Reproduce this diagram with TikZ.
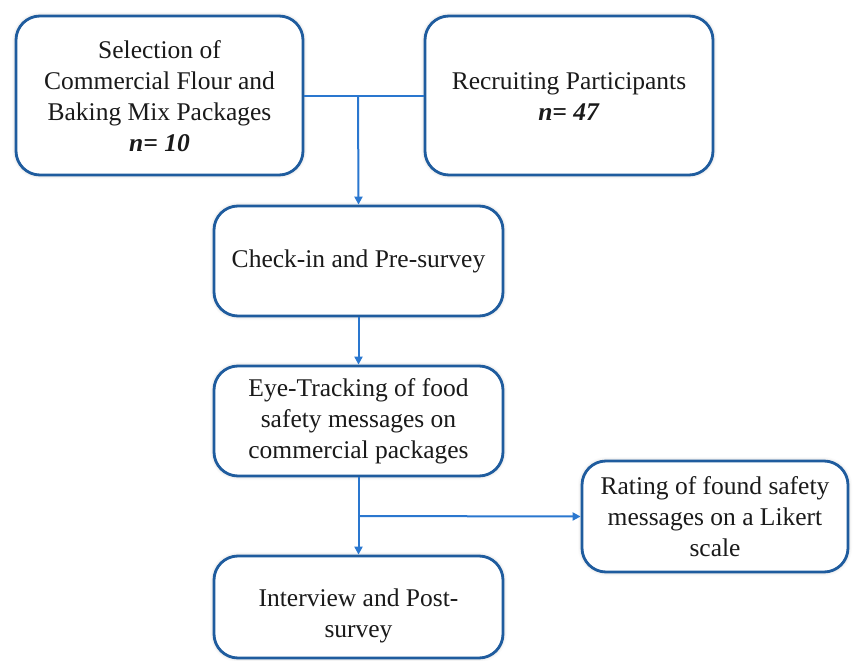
\documentclass[tikz,border=0pt]{standalone}
\usepackage{fontspec}
\setmainfont{Liberation Serif}
\usetikzlibrary{arrows.meta,shadows.blur}
\definecolor{boxblue}{HTML}{1F5C9E}
\definecolor{lineblue}{HTML}{2A77CF}
\definecolor{txt}{HTML}{1A1A1A}
\newcommand{\lowtext}[2]{\raisebox{#1}[\height][\depth]{\begin{tabular}{@{}c@{}}#2\end{tabular}}}
\tikzset{
  stepbox/.style={draw=boxblue, line width=2.8pt, rounded corners=24pt, fill=white,
    align=center, text=txt, inner sep=0pt,
    font=\fontsize{25.5}{31}\selectfont,
    blur shadow={shadow xshift=0pt, shadow yshift=0pt, shadow blur radius=4pt, shadow opacity=25}},
  conn/.style={draw=lineblue, line width=2pt},
  arr/.style={conn, -{Triangle[length=8pt,width=8pt]}}
}
\begin{document}
\begin{tikzpicture}[x=1pt,y=-1pt]
\useasboundingbox (0,0) rectangle (857,661);
\node[stepbox, minimum width=287pt, minimum height=159pt] (b1) at (159.5,95.5)
  {\lowtext{-3pt}{Selection of\\Commercial Flour and\\Baking Mix Packages\\\textbf{\textit{n= 10}}}};
\node[stepbox, minimum width=288pt, minimum height=159pt] (b2) at (569,95.5)
  {\lowtext{-3pt}{Recruiting Participants\\\textbf{\textit{n= 47}}}};
\node[stepbox, minimum width=289pt, minimum height=110pt] (b3) at (358.5,261)
  {Check-in and Pre-survey};
\node[stepbox, minimum width=289pt, minimum height=110pt] (b4) at (358.5,421)
  {Eye-Tracking of food\\safety messages on\\commercial packages};
\node[stepbox, minimum width=266pt, minimum height=111pt] (b6) at (715,516.5)
  {Rating of found safety\\messages on a Likert\\scale};
\node[stepbox, minimum width=289pt, minimum height=102pt] (b5) at (358.5,607)
  {\lowtext{-9pt}{Interview and Post-\\survey}};
\coordinate (j1) at (358,95.5);
\coordinate (j2) at (358,516);
\draw[conn] (b1.east) -- (b2.west);
\draw[arr] (j1) -- (b3.north);
\draw[arr] (b3.south) -- (b4.north);
\draw[arr] (b4.south) -- (b5.north);
\draw[arr] (j2) -- (b6.west);
\end{tikzpicture}
\end{document}
